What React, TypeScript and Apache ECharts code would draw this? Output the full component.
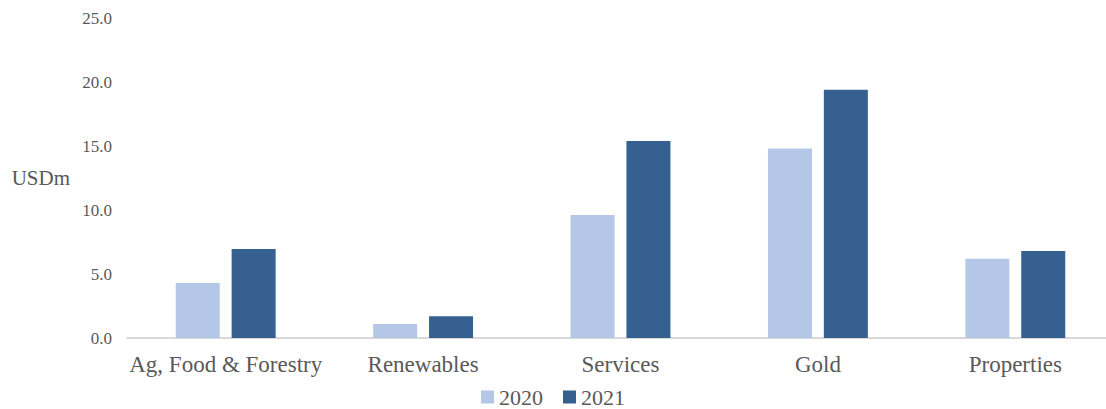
import React, { useEffect, useRef } from "react";
import * as echarts from "echarts";

const categories = ["Ag, Food & Forestry", "Renewables", "Services", "Gold", "Properties"];
const values2020 = [4.3, 1.1, 9.6, 14.8, 6.2];
const values2021 = [6.95, 1.7, 15.4, 19.4, 6.8];
const seriesNames = ["2020", "2021"];

const FONT = "Liberation Serif";

export default function App() {
  const ref = useRef<HTMLDivElement>(null);
  useEffect(() => {
    if (!ref.current) return;
    const chart = echarts.init(ref.current, undefined, { renderer: "svg" });
    chart.setOption({
      animation: false,
      textStyle: { fontFamily: FONT },
      grid: { left: 127, right: -8, top: 18, bottom: 71, outerBoundsMode: "none", containLabel: false },
      legend: {
        data: seriesNames,
        bottom: -4,
        left: "center",
        itemWidth: 13,
        itemHeight: 13,
        itemGap: 20,
        icon: "rect",
        textStyle: { fontFamily: FONT, fontSize: 22, color: "#595959" },
      },
      xAxis: {
        type: "category",
        data: categories,
        axisLine: { lineStyle: { color: "#D9D9D9", width: 2 } },
        axisTick: { show: false },
        axisLabel: { interval: 0, fontFamily: FONT, fontSize: 23, color: "#595959", margin: 15 },
      },
      yAxis: {
        type: "value",
        min: 0,
        max: 25,
        interval: 5,
        name: "USDm",
        nameLocation: "middle",
        nameRotate: 0,
        nameGap: 57,
        nameTextStyle: { fontFamily: FONT, fontSize: 21, color: "#595959", padding: [0, 0, 60, 0] },
        axisLine: { show: false },
        axisTick: { show: false },
        splitLine: { show: false },
        axisLabel: {
          fontFamily: FONT,
          fontSize: 17,
          color: "#595959",
          margin: 15,
          formatter: (v: number) => v.toFixed(1),
        },
      },
      series: [
        {
          name: seriesNames[0],
          type: "bar",
          data: values2020,
          barWidth: 44,
          barGap: "27%",
          itemStyle: { color: "#B4C7E7" },
        },
        {
          name: seriesNames[1],
          type: "bar",
          data: values2021,
          barWidth: 44,
          itemStyle: { color: "#356090" },
        },
      ],
    });
    return () => chart.dispose();
  }, []);
  return (
    <div
      ref={ref}
      style={{ position: "fixed", left: 0, top: 0, width: 1106, height: 409, background: "#fff" }}
    />
  );
}
